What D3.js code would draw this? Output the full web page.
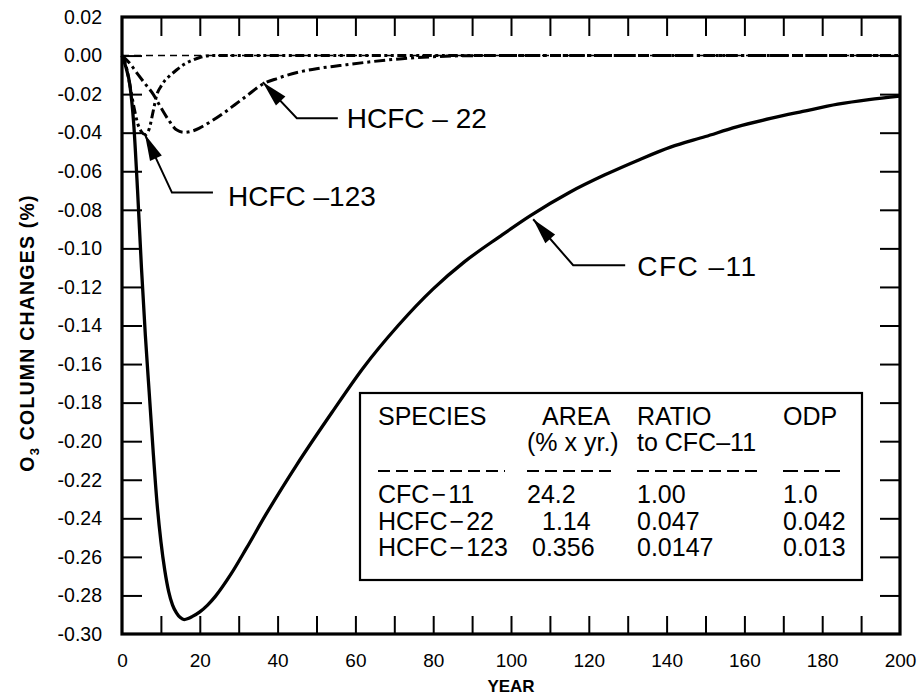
<!DOCTYPE html>
<html><head><meta charset="utf-8">
<script src="https://cdn.jsdelivr.net/npm/d3@7"></script>
<style>
body{margin:0;background:#fff}
svg{display:block}
text{font-family:"Liberation Sans",Arial,Helvetica,sans-serif;fill:#000}
</style>
</head><body>
<svg id="chart" width="918" height="696"></svg>
<script>
// ---------------- data ----------------
const cfc11Years  = [0,1,2,3,4,5,6,7,8,9,10,11,12,13,14,15,16,17,18,20,22,24,28,32,37,45,54,62,71,80,88,97,105,115,124,133,141,150,158,167,175,184,192,200];
const cfc11Values = [0,-0.006,-0.015,-0.035,-0.07,-0.11,-0.145,-0.175,-0.205,-0.232,-0.252,-0.267,-0.278,-0.285,-0.289,-0.2915,-0.2925,-0.292,-0.291,-0.2885,-0.285,-0.2805,-0.269,-0.2555,-0.238,-0.212,-0.185,-0.162,-0.140,-0.121,-0.107,-0.094,-0.083,-0.071,-0.062,-0.054,-0.0475,-0.042,-0.037,-0.0325,-0.029,-0.0252,-0.0228,-0.021];

const hcfc22Years  = [0,2,4,6,8,10,12,14,16,18,20,23,26,29,32,36,40,45,50,56,64,72,80,88,95,120,160,200];
const hcfc22Values = [0,-0.004,-0.0095,-0.0148,-0.020,-0.027,-0.0335,-0.0385,-0.0398,-0.0392,-0.0375,-0.034,-0.030,-0.0255,-0.021,-0.015,-0.0118,-0.0088,-0.0068,-0.0052,-0.0032,-0.0016,-0.0006,-0.0001,0,0,0,0];

const hcfc123Years  = [0,1,2,3,4,5,6,7,8,9,10,11,12,14,16,18,20,23,40,80,120,160,200];
const hcfc123Values = [0,-0.005,-0.015,-0.026,-0.035,-0.0395,-0.041,-0.038,-0.029,-0.020,-0.016,-0.013,-0.011,-0.0075,-0.0045,-0.0025,-0.001,0,0,0,0,0,0];

const xLabelTicks = [0,20,40,60,80,100,120,140,160,180,200];
const xMinorTicks = [10,20,30,40,50,60,70,80,90,100,110,120,130,140,150,160,170,180,190];
const yTickValues = [0.02,0.00,-0.02,-0.04,-0.06,-0.08,-0.10,-0.12,-0.14,-0.16,-0.18,-0.20,-0.22,-0.24,-0.26,-0.28,-0.30];
const yTickLabels = ["0.02","0.00","-0.02","-0.04","-0.06","-0.08","-0.10","-0.12","-0.14","-0.16","-0.18","-0.20","-0.22","-0.24","-0.26","-0.28","-0.30"];

const curveLabels = ["CFC \u201311","HCFC \u2013 22","HCFC \u2013123"];
const labelTipYears  = [105.7, 36.2, 5.9];
const labelTipValues = [-0.0849, -0.0138, -0.0410];

const tableHeader1 = ["SPECIES","AREA","RATIO","ODP"];
const tableHeader2 = ["","(% x yr.)","to CFC\u201311",""];
const tableSpecies = ["CFC\u200a\u2212\u200a11","HCFC\u200a\u2212\u200a22","HCFC\u200a\u2212\u200a123"];
const tableArea    = ["24.2","1.14","0.356"];
const tableRatio   = ["1.00","0.047","0.0147"];
const tableODP     = ["1.0","0.042","0.013"];

// ---------------- layout ----------------
const svg = d3.select("#chart");
const x = d3.scaleLinear().domain([0,200]).range([122,900]);
const y = d3.scaleLinear().domain([0.02,-0.30]).range([17,634]);

const g = svg.append("g");

// zero reference line
g.append("line")
  .attr("x1", x(0)).attr("x2", x(200)).attr("y1", y(0)).attr("y2", y(0))
  .attr("stroke","#000").attr("stroke-width",1.6).attr("stroke-dasharray","7,5");

// ticks (inward)
const tickStyle = sel => { sel.select(".domain").remove(); sel.selectAll(".tick line").attr("stroke","#000").attr("stroke-width",2); };
g.append("g").attr("transform",`translate(0,${y(-0.30)})`)
  .call(d3.axisBottom(x).tickValues(xMinorTicks).tickSize(-18).tickFormat(""))
  .call(tickStyle);
g.append("g").attr("transform",`translate(0,${y(0.02)})`)
  .call(d3.axisTop(x).tickValues(xMinorTicks).tickSize(-19).tickFormat(""))
  .call(tickStyle);
const yInner = yTickValues.slice(1,-1);
g.append("g").attr("transform",`translate(${x(0)},0)`)
  .call(d3.axisLeft(y).tickValues(yInner).tickSize(-20).tickFormat(""))
  .call(tickStyle);
g.append("g").attr("transform",`translate(${x(200)},0)`)
  .call(d3.axisRight(y).tickValues(yInner).tickSize(-20).tickFormat(""))
  .call(tickStyle);

// tick labels
const xl = g.append("g").attr("transform",`translate(0,${y(-0.30)})`)
  .call(d3.axisBottom(x).tickValues(xLabelTicks).tickSize(0).tickPadding(20).tickFormat(d=>String(d)));
xl.select(".domain").remove();
xl.selectAll("text").attr("font-size",19).attr("font-family","Liberation Sans, Arial, sans-serif");

const yl = g.append("g").attr("transform",`translate(${x(0)},0)`)
  .call(d3.axisLeft(y).tickValues(yTickValues).tickSize(0).tickPadding(20).tickFormat((d,i)=>yTickLabels[i]));
yl.select(".domain").remove();
yl.selectAll("text").attr("font-size",19.5).attr("font-family","Liberation Sans, Arial, sans-serif");

// axis titles
svg.append("text").attr("x", (x(0)+x(200))/2).attr("y", 692)
  .attr("text-anchor","middle").attr("font-weight","bold").attr("font-size",17).text("YEAR");
const yt = svg.append("text")
  .attr("transform",`translate(34,333) rotate(-90)`)
  .attr("text-anchor","middle").attr("font-weight","bold").attr("font-size",19.5).attr("letter-spacing",1.2);
yt.append("tspan").text("O");
yt.append("tspan").attr("font-size",13).attr("dy",5).text("3");
yt.append("tspan").attr("dy",-5).text(" COLUMN CHANGES (%)");

// curves
const line = d3.line().x(d=>x(d[0])).y(d=>y(d[1])).curve(d3.curveMonotoneX);
const series = [
  {years:cfc11Years, values:cfc11Values, dash:null, w:3.3},
  {years:hcfc22Years, values:hcfc22Values, dash:"11,4,3,4", w:3},
  {years:hcfc123Years, values:hcfc123Values, dash:"9,3.5,3,3.5,3,3.5", w:3}
];
series.forEach(s=>{
  g.append("path").datum(s.years.map((yr,i)=>[yr,s.values[i]]))
    .attr("d", line).attr("fill","none").attr("stroke","#000")
    .attr("stroke-width", s.w).attr("stroke-linejoin","round")
    .attr("stroke-dasharray", s.dash);
});

// frame
g.append("rect").attr("x",x(0)).attr("y",y(0.02))
  .attr("width",x(200)-x(0)).attr("height",y(-0.30)-y(0.02))
  .attr("fill","none").attr("stroke","#000").attr("stroke-width",3.2);

// annotations: leader lines with arrow heads
const leaderOffsets = [ // [elbow dx,dy], [end dx,dy], [text dx,dy] relative to tip in px
  [[40,46],[92,46],[104,47]],
  [[34,36],[75,36],[84,36]],
  [[27,58],[68,58],[83,61]]
];
curveLabels.forEach((lab,i)=>{
  const tx = x(labelTipYears[i]), ty = y(labelTipValues[i]);
  const [e,en,t] = leaderOffsets[i];
  const ex = tx+e[0], ey = ty+e[1];
  g.append("path").attr("d",`M${tx},${ty}L${ex},${ey}L${tx+en[0]},${ty+en[1]}`)
    .attr("fill","none").attr("stroke","#000").attr("stroke-width",2);
  const ang = Math.atan2(ey-ty, ex-tx);
  const L = 26, W = 6.5;
  const bx = tx + L*Math.cos(ang), by = ty + L*Math.sin(ang);
  const px = -Math.sin(ang)*W, py = Math.cos(ang)*W;
  g.append("path").attr("d",`M${tx},${ty}L${bx+px},${by+py}L${bx-px},${by-py}Z`).attr("fill","#000");
  const txt = g.append("text").attr("x",tx+t[0]).attr("y",ty+t[1]).attr("dy","0.36em")
    .attr("font-size",28).text(lab);
  if(i===0) txt.attr("letter-spacing",1.5);
});

// table box
const box = {x0:360, y0:393, x1:862, y1:580};
g.append("rect").attr("x",box.x0).attr("y",box.y0).attr("width",box.x1-box.x0).attr("height",box.y1-box.y0)
  .attr("fill","#fff").attr("stroke","#000").attr("stroke-width",2.2);
const colX = [378, 542, 637, 783];
const fs = 25;
tableHeader1.forEach((h,i)=>{
  g.append("text").attr("x",colX[i]).attr("y",425).attr("font-size",fs).text(h);
});
const h2x = [378, 527, 637, 783];
tableHeader2.forEach((h,i)=>{
  if(h) g.append("text").attr("x",h2x[i]).attr("y",451).attr("font-size",fs).text(h);
});
const dashSpans = [[378,505,"12,6"],[527,617,"12,6"],[637,760,"12,6"],[783,840,"15,6"]];
dashSpans.forEach(s=>{
  g.append("line").attr("x1",s[0]).attr("x2",s[1]).attr("y1",471).attr("y2",471)
    .attr("stroke","#000").attr("stroke-width",2).attr("stroke-dasharray",s[2]);
});
const rowY = [503, 529.5, 556];
const areaX = [527, 542, 532];
tableSpecies.forEach((s,i)=>{
  g.append("text").attr("x",colX[0]).attr("y",rowY[i]).attr("font-size",fs).text(s);
  g.append("text").attr("x",areaX[i]).attr("y",rowY[i]).attr("font-size",fs).text(tableArea[i]);
  g.append("text").attr("x",colX[2]).attr("y",rowY[i]).attr("font-size",fs).text(tableRatio[i]);
  g.append("text").attr("x",colX[3]).attr("y",rowY[i]).attr("font-size",fs).text(tableODP[i]);
});
</script>
</body></html>
